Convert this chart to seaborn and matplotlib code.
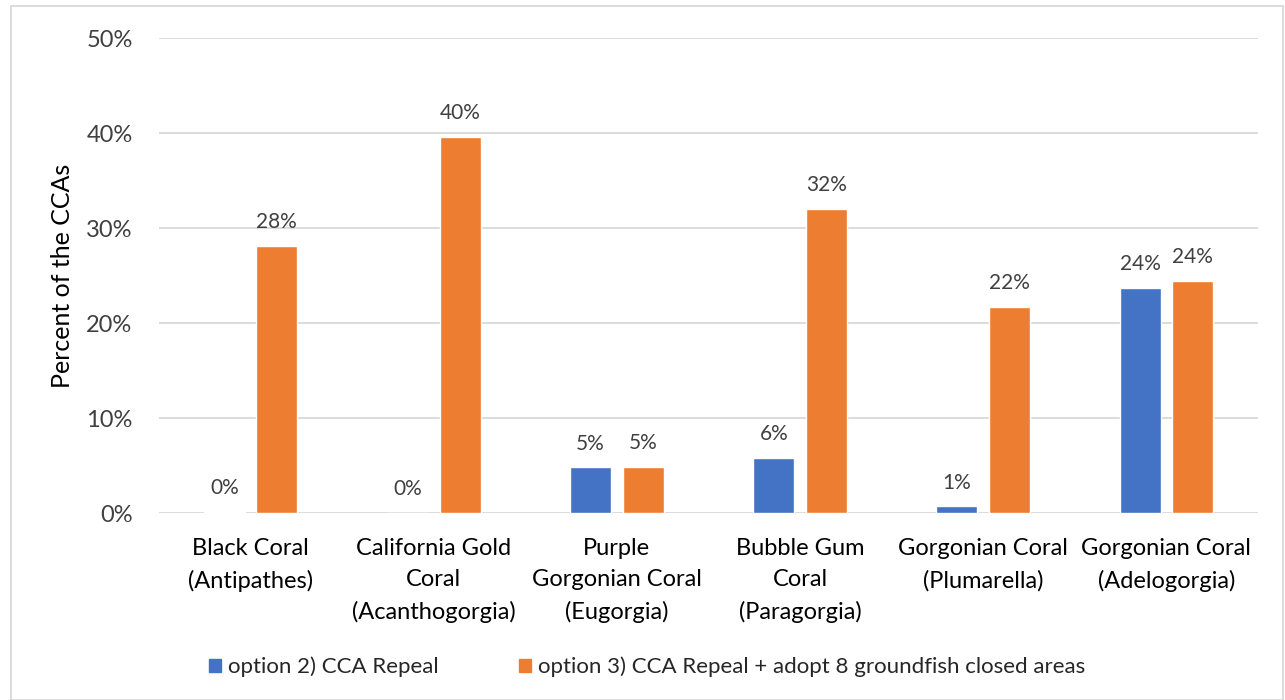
import matplotlib
matplotlib.use("Agg")
import matplotlib.pyplot as plt
import seaborn as sns
import pandas as pd
from matplotlib.ticker import FuncFormatter, MultipleLocator
from matplotlib.patches import Rectangle

categories = [
    "Black Coral\n(Antipathes)",
    "California Gold\nCoral\n(Acanthogorgia)",
    "Purple\nGorgonian Coral\n(Eugorgia)",
    "Bubble Gum\nCoral\n(Paragorgia)",
    "Gorgonian Coral\n(Plumarella)",
    "Gorgonian Coral\n(Adelogorgia)",
]
series_names = ["option 2) CCA Repeal",
                "option 3) CCA Repeal + adopt 8 groundfish closed areas"]
option2 = [0.1, 0.0, 4.8, 5.8, 0.7, 23.7]
option3 = [28.1, 39.6, 4.9, 32.0, 21.7, 24.4]
colors = ["#4472C4", "#ED7D31"]

df = pd.DataFrame({
    "category": categories * 2,
    "series": [series_names[0]] * len(categories) + [series_names[1]] * len(categories),
    "value": option2 + option3,
})

sns.set_theme(style="white")
plt.rcParams['font.family'] = ['Lato', 'DejaVu Sans']

fig = plt.figure(figsize=(12.85, 7.0), dpi=100)
ax = fig.add_axes([0.1237, 0.267, 0.979 - 0.1237, 0.9457 - 0.267])

sns.barplot(data=df, x="category", y="value", hue="series", palette=colors,
            width=0.574, gap=0.22, ax=ax, legend=False, saturation=1,
            order=categories, hue_order=series_names, errorbar=None)

ax.set_ylim(0, 50)
ax.set_xlim(-0.5, len(categories) - 0.5)
ax.yaxis.set_major_locator(MultipleLocator(10))
ax.yaxis.set_major_formatter(FuncFormatter(lambda v, p: f"{v:.0f}%"))
ax.grid(axis="y", color="#d9d9d9", linewidth=1.3)
ax.set_axisbelow(True)
for s in ax.spines.values():
    s.set_visible(False)
ax.tick_params(axis="both", length=0)
ax.tick_params(axis="y", labelsize=17, labelcolor="#404040", pad=19)
ax.tick_params(axis="x", labelsize=17, labelcolor="#000000", pad=18)
for lbl in ax.get_xticklabels():
    lbl.set_linespacing(1.6)
ax.set_xlabel("")
ax.set_ylabel("Percent of the CCAs", fontsize=18, color="#000000", labelpad=9)

for cont in ax.containers:
    ax.bar_label(cont, labels=[f"{v:.0f}%" for v in cont.datavalues],
                 padding=10, fontsize=15, color="#404040")

handles = [Rectangle((0, 0), 1, 1, color=c) for c in colors]
fig.legend(handles, series_names, loc="center", bbox_to_anchor=(0.5035, 0.047),
           ncol=2, frameon=False, fontsize=16, handlelength=0.55,
           handleheight=0.55, handletextpad=0.3, columnspacing=3.6)

fig.patches.append(Rectangle((0.0086, 0.0), 0.99, 0.991, transform=fig.transFigure,
                             fill=False, edgecolor="#d9d9d9", linewidth=1.3))

fig.savefig("out.png", dpi=100, facecolor="white")
